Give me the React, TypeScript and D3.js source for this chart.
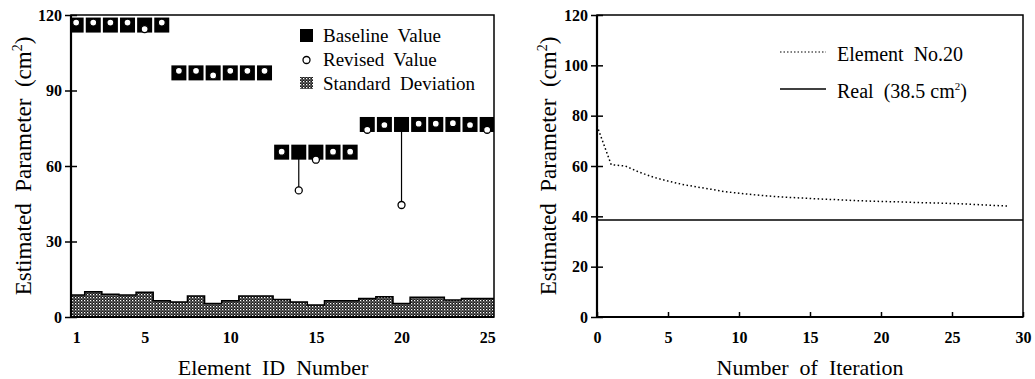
import React, { useEffect, useRef } from 'react';
import * as d3 from 'd3';

// left panel: per-element results
const elementIds = [1, 2, 3, 4, 5, 6, 7, 8, 9, 10, 11, 12, 13, 14, 15, 16, 17, 18, 19, 20, 21, 22, 23, 24, 25];
const baselineValues = [116, 116, 116, 116, 116, 116, 97, 97, 97, 97, 97, 97, 65.5, 65.5, 65.5, 65.5, 65.5, 76.5, 76.5, 76.5, 76.5, 76.5, 76.5, 76.5, 76.5];
const revisedValues = [117, 117, 117, 117, 114.4, 117, 97.8, 97.8, 96, 97.8, 97.8, 97.8, 65.7, 50.3, 62.5, 65.7, 65.7, 74.4, 76.3, 44.5, 76.8, 76.8, 77, 76.3, 74.4];
const stdDevValues = [8.7, 10, 9, 8.7, 9.8, 6.5, 6, 8.3, 5.4, 6.5, 8.3, 8.3, 7, 6, 4.8, 6.5, 6.5, 7.4, 8, 5.4, 7.8, 7.8, 6.8, 7.4, 7.4];
const leftYTicks = [0, 30, 60, 90, 120];
const leftXTicks = [1, 5, 10, 15, 20, 25];

// right panel: convergence of element 20
const iterations = [0, 1, 2, 3, 4, 5, 6, 7, 8, 9, 10, 11, 12, 13, 14, 15, 16, 17, 18, 19, 20, 21, 22, 23, 24, 25, 26, 27, 28, 29];
const element20Values = [76, 60.5, 60, 57.5, 55.5, 54, 52.7, 51.7, 50.8, 49.8, 49.2, 48.6, 48.1, 47.7, 47.4, 47.1, 46.8, 46.6, 46.3, 46.1, 45.9, 45.8, 45.6, 45.4, 45.3, 45.1, 44.9, 44.6, 44.3, 44.1];
const realValue = 38.5;
const rightYTicks = [0, 20, 40, 60, 80, 100, 120];
const rightXTicks = [0, 5, 10, 15, 20, 25, 30];

const FONT = 'Liberation Serif, DejaVu Serif, serif';

const App: React.FC = () => {
  const svgRef = useRef<SVGSVGElement>(null);

  useEffect(() => {
    if (!svgRef.current) return;
    const svg = d3.select(svgRef.current);
    svg.selectAll('*').remove();

    const defs = svg.append('defs');
    const pat = defs.append('pattern')
      .attr('id', 'hatch')
      .attr('patternUnits', 'userSpaceOnUse')
      .attr('width', 3)
      .attr('height', 3);
    pat.append('rect').attr('width', 3).attr('height', 3).attr('fill', '#1a1a1a');
    pat.append('rect').attr('x', 0).attr('y', 0).attr('width', 1.3).attr('height', 1.3).attr('fill', '#fff');
    pat.append('rect').attr('x', 1.5).attr('y', 1.5).attr('width', 1).attr('height', 1).attr('fill', '#ddd');

    const top = 15;
    const bottom = 317;

    // ---------- left panel ----------
    const xL = d3.scaleLinear().domain([0.7, 25.4]).range([71, 494]);
    const yL = d3.scaleLinear().domain([0, 120]).range([bottom, top]);

    defs.append('clipPath').attr('id', 'clipL')
      .append('rect').attr('x', xL.range()[0]).attr('y', top)
      .attr('width', xL.range()[1] - xL.range()[0]).attr('height', bottom - top);

    const gL = svg.append('g').attr('clip-path', 'url(#clipL)');

    // standard deviation steps
    gL.selectAll('rect.sd')
      .data(elementIds)
      .enter()
      .append('rect')
      .attr('class', 'sd')
      .attr('x', d => xL(d - 0.5))
      .attr('width', d => xL(d + 0.5) - xL(d - 0.5) + 0.3)
      .attr('y', (d, i) => yL(stdDevValues[i]))
      .attr('height', (d, i) => yL(0) - yL(stdDevValues[i]))
      .attr('fill', 'url(#hatch)');

    const stepPts: [number, number][] = elementIds.map((d, i) => [d - 0.5, stdDevValues[i]]);
    stepPts.push([elementIds[elementIds.length - 1] + 0.5, stdDevValues[stdDevValues.length - 1]]);
    gL.append('path')
      .attr('d', d3.line<[number, number]>().x(p => xL(p[0])).y(p => yL(p[1])).curve(d3.curveStepAfter)(stepPts))
      .attr('fill', 'none')
      .attr('stroke', '#000')
      .attr('stroke-width', 1.5);

    // baseline squares
    const sq = 15;
    gL.selectAll('rect.base')
      .data(elementIds)
      .enter()
      .append('rect')
      .attr('class', 'base')
      .attr('x', d => xL(d) - sq / 2)
      .attr('y', (d, i) => yL(baselineValues[i]) - sq / 2)
      .attr('width', sq)
      .attr('height', sq)
      .attr('fill', '#000');

    // stems from baseline to revised
    gL.selectAll('line.stem')
      .data(elementIds)
      .enter()
      .append('line')
      .attr('x1', d => xL(d))
      .attr('x2', d => xL(d))
      .attr('y1', (d, i) => yL(baselineValues[i]))
      .attr('y2', (d, i) => yL(revisedValues[i]))
      .attr('stroke', '#000')
      .attr('stroke-width', 1.2);

    gL.selectAll('circle.rev')
      .data(elementIds)
      .enter()
      .append('circle')
      .attr('cx', d => xL(d))
      .attr('cy', (d, i) => yL(revisedValues[i]))
      .attr('r', 3.5)
      .attr('fill', '#fff')
      .attr('stroke', '#000')
      .attr('stroke-width', 1.3);

    // axes
    const yAxisL = svg.append('g')
      .attr('transform', `translate(${xL.range()[0]},0)`)
      .call(d3.axisLeft(yL).tickValues(leftYTicks).tickSize(6).tickPadding(3));
    yAxisL.select('.domain').remove();
    yAxisL.selectAll('.tick line').attr('x1', 6).attr('stroke-width', 1.5);

    const xAxisL = svg.append('g')
      .attr('transform', `translate(0,${bottom})`)
      .call(d3.axisBottom(xL).tickValues(leftXTicks).tickSize(0).tickPadding(15));
    xAxisL.select('.domain').remove();

    // frame
    svg.append('rect')
      .attr('x', xL.range()[0]).attr('y', top)
      .attr('width', xL.range()[1] - xL.range()[0]).attr('height', bottom - top)
      .attr('fill', 'none').attr('stroke', '#000').attr('stroke-width', 1.5);
    svg.append('path')
      .attr('d', `M${xL.range()[0]},${top}V${bottom}H${xL.range()[1]}`)
      .attr('fill', 'none').attr('stroke', '#000').attr('stroke-width', 2.2);

    // legend
    const lg = svg.append('g').attr('font-family', FONT).attr('font-size', 19);
    lg.append('rect').attr('x', 300).attr('y', 29).attr('width', 13).attr('height', 13).attr('fill', '#000');
    lg.append('text').attr('x', 323).attr('y', 42).style('white-space', 'pre').text('Baseline  Value');
    lg.append('circle').attr('cx', 306.5).attr('cy', 60).attr('r', 3.5).attr('fill', '#fff').attr('stroke', '#000').attr('stroke-width', 1.3);
    lg.append('text').attr('x', 323).attr('y', 66).style('white-space', 'pre').text('Revised  Value');
    lg.append('rect').attr('x', 300).attr('y', 77).attr('width', 13).attr('height', 12).attr('fill', 'url(#hatch)');
    lg.append('text').attr('x', 323).attr('y', 90).style('white-space', 'pre').text('Standard  Deviation');

    // ---------- right panel ----------
    const xR = d3.scaleLinear().domain([0, 30]).range([597, 1023]);
    const yR = d3.scaleLinear().domain([0, 120]).range([bottom, top]);

    svg.append('line')
      .attr('x1', xR(0)).attr('x2', xR(30))
      .attr('y1', yR(realValue)).attr('y2', yR(realValue))
      .attr('stroke', '#000').attr('stroke-width', 1.5);

    svg.append('path')
      .attr('d', d3.line<number>().x(d => xR(d)).y((d, i) => yR(element20Values[i]))(iterations))
      .attr('fill', 'none')
      .attr('stroke', '#000')
      .attr('stroke-width', 1.5)
      .attr('stroke-dasharray', '1.5,2.5');

    const yAxisR = svg.append('g')
      .attr('transform', `translate(${xR.range()[0]},0)`)
      .call(d3.axisLeft(yR).tickValues(rightYTicks).tickSize(6).tickPadding(3));
    yAxisR.select('.domain').remove();
    yAxisR.selectAll('.tick line').attr('x1', 6).attr('stroke-width', 1.5);

    const xAxisR = svg.append('g')
      .attr('transform', `translate(0,${bottom})`)
      .call(d3.axisBottom(xR).tickValues(rightXTicks).tickSizeInner(-5).tickSizeOuter(0).tickPadding(15));
    xAxisR.select('.domain').remove();
    xAxisR.selectAll('.tick line').attr('stroke-width', 1.5);

    svg.append('rect')
      .attr('x', xR.range()[0]).attr('y', top)
      .attr('width', xR.range()[1] - xR.range()[0]).attr('height', bottom - top)
      .attr('fill', 'none').attr('stroke', '#000').attr('stroke-width', 1.5);
    svg.append('path')
      .attr('d', `M${xR.range()[0]},${top}V${bottom}H${xR.range()[1]}`)
      .attr('fill', 'none').attr('stroke', '#000').attr('stroke-width', 2.2);

    const rg = svg.append('g').attr('font-family', FONT).attr('font-size', 20);
    rg.append('line').attr('x1', 780).attr('x2', 826).attr('y1', 52).attr('y2', 52)
      .attr('stroke', '#000').attr('stroke-width', 1.2).attr('stroke-dasharray', '1.5,2');
    rg.append('text').attr('x', 837).attr('y', 61).style('white-space', 'pre').text('Element  No.20');
    rg.append('line').attr('x1', 780).attr('x2', 826).attr('y1', 89).attr('y2', 89)
      .attr('stroke', '#000').attr('stroke-width', 1.3);
    const realTxt = rg.append('text').attr('x', 837).attr('y', 98).style('white-space', 'pre');
    realTxt.append('tspan').text('Real  (38.5 cm');
    realTxt.append('tspan').attr('dy', -8).attr('font-size', 11).text('2');
    realTxt.append('tspan').attr('dy', 8).text(')');

    // tick label styling
    svg.selectAll('.tick text')
      .attr('font-family', FONT)
      .style('font-family', FONT)
      .style('font-size', '16px')
      .style('font-weight', 'bold')
      .attr('fill', '#000');

    // axis titles
    const yTitle = (x: number) => {
      const t = svg.append('text')
        .attr('transform', `translate(${x},166) rotate(-90)`)
        .attr('text-anchor', 'middle')
        .attr('font-family', FONT)
        .attr('font-size', 23)
        .style('white-space', 'pre');
      t.append('tspan').text('Estimated  Parameter  (cm');
      t.append('tspan').attr('dy', -9).attr('font-size', 14).text('2');
      t.append('tspan').attr('dy', 9).text(')');
    };
    yTitle(31);
    yTitle(556);

    svg.append('text')
      .attr('x', 273).attr('y', 375)
      .attr('text-anchor', 'middle')
      .attr('font-family', FONT).attr('font-size', 22)
      .style('white-space', 'pre')
      .text('Element  ID  Number');
    svg.append('text')
      .attr('x', 810).attr('y', 375)
      .attr('text-anchor', 'middle')
      .attr('font-family', FONT).attr('font-size', 22)
      .style('white-space', 'pre')
      .text('Number  of  Iteration');
  }, []);

  return (
    <svg
      ref={svgRef}
      width={1035}
      height={379}
      style={{ position: 'absolute', left: 0, top: 0, background: '#fff' }}
    />
  );
};

export default App;
